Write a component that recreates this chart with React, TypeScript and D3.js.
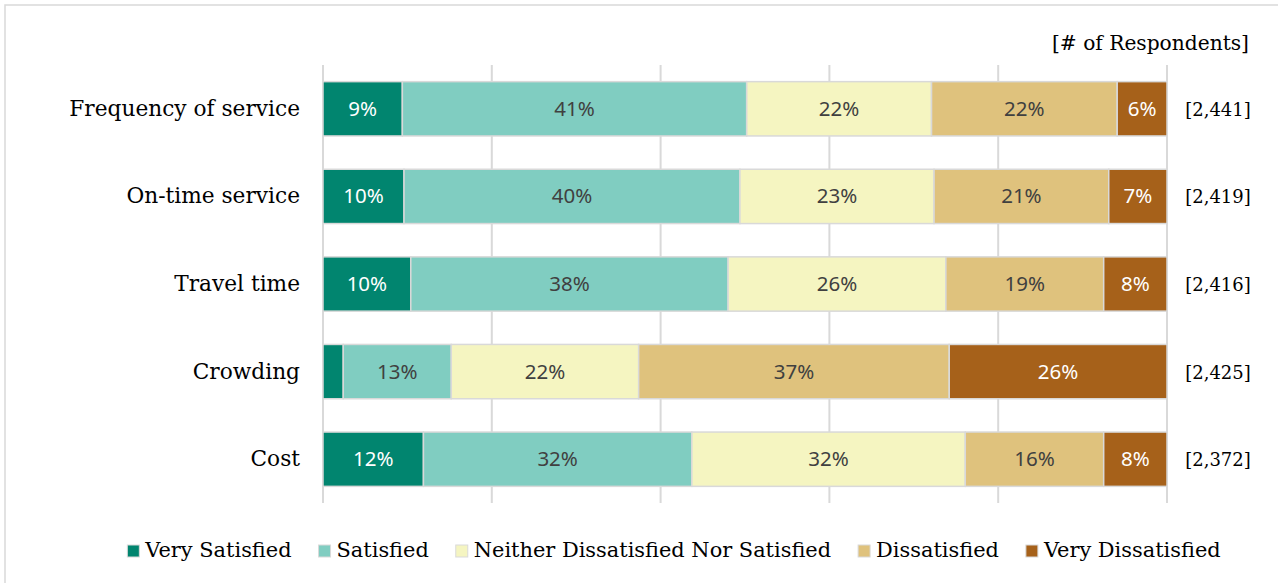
import React, { useEffect, useRef } from "react";
import * as d3 from "d3";

const categories = ["Frequency of service", "On-time service", "Travel time", "Crowding", "Cost"];
const seriesNames = ["Very Satisfied", "Satisfied", "Neither Dissatisfied Nor Satisfied", "Dissatisfied", "Very Dissatisfied"];
const verySatisfied = [9.4, 9.6, 10.4, 2.4, 11.9];
const satisfied = [40.8, 39.8, 37.6, 12.8, 31.8];
const neither = [21.9, 23.0, 25.8, 22.2, 32.4];
const dissatisfied = [22.0, 20.7, 18.7, 36.8, 16.4];
const veryDissatisfied = [5.9, 6.9, 7.5, 25.8, 7.5];
const respondents = ["[2,441]", "[2,419]", "[2,416]", "[2,425]", "[2,372]"];
const colors = ["#01856F", "#80CDC1", "#F5F5C1", "#DFC27D", "#A6611A"];
const labelColors = ["#ffffff", "#404040", "#404040", "#404040", "#ffffff"];
const xTicks = [0, 20, 40, 60, 80, 100];

const W = 1278;
const H = 583;
const serif = "'DejaVu Serif', serif";
const sans = "'Noto Sans', 'Open Sans', sans-serif";

export default function App() {
  const ref = useRef<SVGSVGElement | null>(null);

  useEffect(() => {
    const svg = d3.select(ref.current);
    svg.selectAll("*").remove();

    const series = [verySatisfied, satisfied, neither, dissatisfied, veryDissatisfied];
    const rows = categories.map((c, i) => {
      const o: any = { cat: c };
      seriesNames.forEach((s, j) => (o[s] = series[j][i]));
      return o;
    });
    const stacked = d3.stack<any>().keys(seriesNames)(rows);

    const x = d3.scaleLinear().domain([0, 100]).range([323, 1167]);
    const y = d3.scaleBand().domain(categories).range([65, 503]).paddingInner(0.38).paddingOuter(0.19);

    // frame
    svg.append("rect").attr("x", 5).attr("y", 5).attr("width", W + 20).attr("height", H + 20)
      .attr("fill", "#fff").attr("stroke", "#d9d9d9").attr("stroke-width", 1.5);

    // gridlines
    svg.append("g").selectAll("line").data(xTicks).join("line")
      .attr("x1", (d) => x(d)).attr("x2", (d) => x(d))
      .attr("y1", 65).attr("y2", 503)
      .attr("stroke", "#d9d9d9").attr("stroke-width", 2);

    // bars
    const g = svg.append("g");
    stacked.forEach((layer, j) => {
      const lg = g.append("g");
      lg.selectAll("rect").data(layer).join("rect")
        .attr("x", (d) => x(d[0]))
        .attr("y", (d) => y(d.data.cat)!)
        .attr("width", (d) => x(d[1]) - x(d[0]))
        .attr("height", y.bandwidth())
        .attr("fill", colors[j])
        .attr("stroke", "#d9d9d9")
        .attr("stroke-width", 1.5);
      lg.selectAll("text").data(layer.filter((d) => d[1] - d[0] >= 4)).join("text")
        .attr("x", (d) => (x(d[0]) + x(d[1])) / 2)
        .attr("y", (d) => y(d.data.cat)! + y.bandwidth() / 2 + 7)
        .attr("text-anchor", "middle")
        .attr("font-family", sans)
        .attr("font-size", 20.5)
        .attr("fill", labelColors[j])
        .text((d) => `${Math.round(d[1] - d[0])}%`);
    });

    // category labels
    svg.append("g").selectAll("text").data(categories).join("text")
      .attr("x", 300)
      .attr("y", (d) => y(d)! + y.bandwidth() / 2 + 7)
      .attr("text-anchor", "end")
      .attr("font-family", serif)
      .attr("font-size", 21.7)
      .attr("fill", "#000")
      .text((d) => d);

    // respondents
    svg.append("text").attr("x", 1249).attr("y", 50).attr("text-anchor", "end")
      .attr("font-family", serif).attr("font-size", 20.2).attr("fill", "#000")
      .text("[# of Respondents]");
    svg.append("g").selectAll("text").data(categories).join("text")
      .attr("x", 1218)
      .attr("y", (d) => y(d)! + y.bandwidth() / 2 + 7)
      .attr("text-anchor", "middle")
      .attr("font-family", serif)
      .attr("font-size", 18)
      .attr("fill", "#000")
      .text((d, i) => respondents[i]);

    // legend
    const leg = svg.append("g");
    const items = seriesNames.map((name, i) => {
      const it = leg.append("g");
      it.append("rect").attr("x", 0).attr("y", -12).attr("width", 12).attr("height", 12)
        .attr("fill", colors[i]).attr("stroke", "#d9d9d9").attr("stroke-width", 1);
      const t = it.append("text").attr("x", 18).attr("y", 0)
        .attr("font-family", serif).attr("font-size", 20.9).attr("fill", "#000").text(name);
      const w = 18 + (t.node() as SVGTextElement).getComputedTextLength();
      return { it, w };
    });
    const gap = 27;
    const total = d3.sum(items, (d) => d.w) + gap * (items.length - 1);
    let cx = 674 - total / 2;
    items.forEach((d) => {
      d.it.attr("transform", `translate(${cx},557)`);
      cx += d.w + gap;
    });
  }, []);

  return (
    <svg ref={ref} width={W} height={H} style={{ display: "block", position: "absolute", left: 0, top: 0 }} />
  );
}
